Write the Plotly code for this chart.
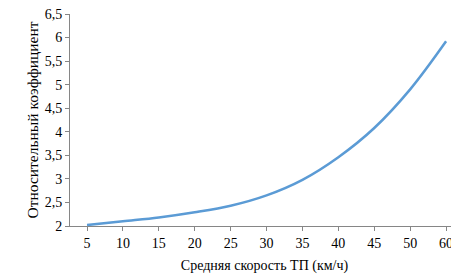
import plotly.graph_objects as go

speed_labels = ["5", "10", "15", "20", "25", "30", "35", "40", "45", "50", "60"]
coef_values = [2.02, 2.1, 2.18, 2.29, 2.43, 2.65, 2.98, 3.46, 4.08, 4.9, 5.92]
y_ticks = [2, 2.5, 3, 3.5, 4, 4.5, 5, 5.5, 6, 6.5]

FONT = "Liberation Serif, DejaVu Serif, serif"
AXIS_COLOR = "#868686"

fig = go.Figure()
fig.add_trace(go.Scatter(
    x=speed_labels, y=coef_values, mode="lines",
    line=dict(color="#5B9BD5", width=2.5, shape="spline", smoothing=1.0),
    showlegend=False, hoverinfo="skip",
))

fig.update_layout(
    width=451, height=272,
    margin=dict(l=62, r=0, t=6, b=54),
    paper_bgcolor="white", plot_bgcolor="white",
    separators=", ",
    font=dict(family=FONT, size=14, color="#000000"),
    xaxis=dict(
        type="category", range=[-0.474, 10.36],
        showline=True, linecolor=AXIS_COLOR, linewidth=1,
        ticks="outside", ticklen=4, tickcolor=AXIS_COLOR,
        showgrid=False, zeroline=False,
        title=dict(text="Средняя скорость ТП (км/ч)", font=dict(size=14), standoff=10),
        automargin=False, ticklabeloverflow="allow",
    ),
    yaxis=dict(
        range=[2, 6.5], tickvals=y_ticks,
        showline=True, linecolor=AXIS_COLOR, linewidth=1,
        ticks="outside", ticklen=4, tickcolor=AXIS_COLOR,
        showgrid=False, zeroline=False,
        title=dict(text="Относительный коэффициент", font=dict(size=15.5), standoff=2),
        automargin=False, ticklabeloverflow="allow",
    ),
)

fig.write_html("out.html")
